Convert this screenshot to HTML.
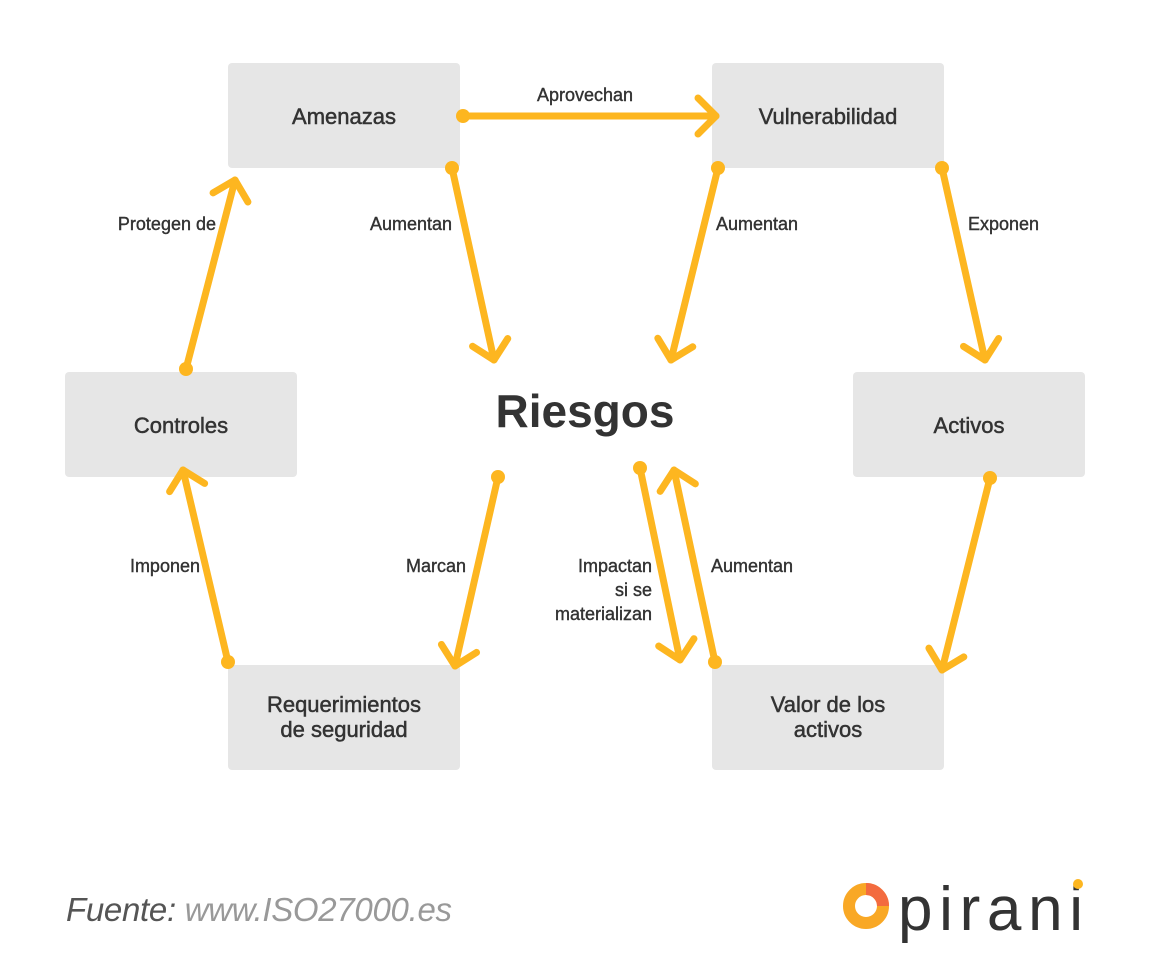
<!DOCTYPE html>
<html><head><meta charset="utf-8"><style>
body{margin:0;background:#fff;}
svg{display:block;font-family:"Liberation Sans",sans-serif;}
</style></head><body>
<svg width="1150" height="980" viewBox="0 0 1150 980" xmlns="http://www.w3.org/2000/svg">
<defs>
<marker id="a" markerUnits="userSpaceOnUse" markerWidth="60" markerHeight="60" refX="30" refY="30" orient="auto" viewBox="0 0 60 60">
<path d="M12,12 L30,30 L12,48" fill="none" stroke="#FDB620" stroke-width="7" stroke-linecap="round" stroke-linejoin="round"/>
</marker>
</defs>
<g fill="#e6e6e6">
<rect x="228" y="63" width="232" height="105" rx="4"/>
<rect x="712" y="63" width="232" height="105" rx="4"/>
<rect x="65" y="372" width="232" height="105" rx="4"/>
<rect x="853" y="372" width="232" height="105" rx="4"/>
<rect x="228" y="665" width="232" height="105" rx="4"/>
<rect x="712" y="665" width="232" height="105" rx="4"/>
</g>
<g font-size="22" fill="#333" text-anchor="middle" stroke="#333" stroke-width="0.5">
<text x="344" y="124">Amenazas</text>
<text x="828" y="124">Vulnerabilidad</text>
<text x="181" y="433">Controles</text>
<text x="969" y="433">Activos</text>
<text x="344" y="712">Requerimientos</text>
<text x="344" y="737">de seguridad</text>
<text x="828" y="712">Valor de los</text>
<text x="828" y="737">activos</text>
</g>
<g stroke="#FDB620" stroke-width="7" stroke-linecap="round" fill="none" marker-end="url(#a)">
<line x1="463" y1="116" x2="716" y2="116"/>
<line x1="452" y1="168" x2="494" y2="360"/>
<line x1="718" y1="168" x2="671" y2="360"/>
<line x1="942" y1="168" x2="985" y2="360"/>
<line x1="186" y1="369" x2="235" y2="180"/>
<line x1="228" y1="662" x2="183" y2="470"/>
<line x1="498" y1="477" x2="455" y2="666"/>
<line x1="640" y1="468" x2="680" y2="660"/>
<line x1="715" y1="662" x2="674" y2="470"/>
<line x1="990" y1="478" x2="942" y2="670"/>
</g>
<g fill="#FDB620">
<circle cx="463" cy="116" r="7"/><circle cx="452" cy="168" r="7"/><circle cx="718" cy="168" r="7"/>
<circle cx="942" cy="168" r="7"/><circle cx="186" cy="369" r="7"/><circle cx="228" cy="662" r="7"/>
<circle cx="498" cy="477" r="7"/><circle cx="640" cy="468" r="7"/><circle cx="715" cy="662" r="7"/>
<circle cx="990" cy="478" r="7"/>
</g>
<g font-size="18" fill="#333" stroke="#333" stroke-width="0.4">
<text x="585" y="101" text-anchor="middle">Aprovechan</text>
<text x="216" y="230" text-anchor="end">Protegen de</text>
<text x="452" y="230" text-anchor="end">Aumentan</text>
<text x="716" y="230">Aumentan</text>
<text x="968" y="230">Exponen</text>
<text x="200" y="572" text-anchor="end">Imponen</text>
<text x="466" y="572" text-anchor="end">Marcan</text>
<text x="652" y="572" text-anchor="end">Impactan</text>
<text x="652" y="596" text-anchor="end">si se</text>
<text x="652" y="620" text-anchor="end">materializan</text>
<text x="711" y="572">Aumentan</text>
</g>
<text x="585" y="427" text-anchor="middle" font-size="46" font-weight="bold" fill="#333">Riesgos</text>
<text x="66" y="921" font-size="33" font-style="italic" fill="#555" textLength="386">Fuente: <tspan fill="#999">www.ISO27000.es</tspan></text>
<circle cx="866" cy="906" r="17" fill="none" stroke="#F9A825" stroke-width="12"/>
<path d="M866,889 A17,17 0 0 1 883,906" fill="none" stroke="#F36B3F" stroke-width="12"/>
<text x="898" y="930" font-size="62" fill="#333" textLength="185">pirani</text>
<circle cx="1078" cy="884" r="5" fill="#FDB620"/>
</svg>
</body></html>
